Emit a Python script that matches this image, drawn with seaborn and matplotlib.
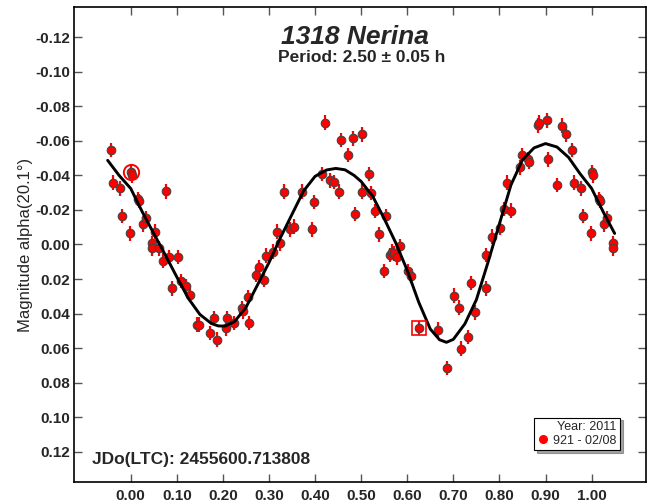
import numpy as np
import pandas as pd
import matplotlib
matplotlib.use("Agg")
import matplotlib.pyplot as plt
import seaborn as sns
from matplotlib.lines import Line2D

# ---- data (phase in [0,1), reduced magnitude) ----
phase = [0.000, 0.002, 0.0166, 0.018, 0.026, 0.033, 0.0455, 0.047, 0.0527, 0.062,
         0.0707, 0.0766, 0.083, 0.090, 0.102, 0.109, 0.119, 0.1286, 0.143, 0.148,
         0.171, 0.181, 0.1865, 0.207, 0.208, 0.225, 0.241, 0.243, 0.255, 0.257,
         0.271, 0.279, 0.290, 0.2935, 0.308, 0.3167, 0.3245, 0.3325, 0.3455, 0.354,
         0.371, 0.394, 0.3976, 0.414, 0.422, 0.432, 0.441, 0.452, 0.4555, 0.471,
         0.483, 0.486, 0.5017, 0.5017, 0.516, 0.521, 0.531, 0.539, 0.549, 0.554,
         0.562, 0.568, 0.572, 0.578, 0.585, 0.601, 0.609, 0.625, 0.667, 0.6855,
         0.702, 0.712, 0.7165, 0.732, 0.738, 0.747, 0.770, 0.7707, 0.784, 0.801,
         0.8105, 0.8156, 0.825, 0.8445, 0.8495, 0.8625, 0.8647, 0.884, 0.886, 0.9025,
         0.9045, 0.924, 0.935, 0.9436, 0.9566, 0.962, 0.976, 0.982, 0.9985]
mag = [-0.0420, -0.0400, -0.0265, -0.0252, -0.0116, -0.0155, -0.0006, 0.0023, -0.0074, 0.0023,
       0.0093, -0.0308, 0.0071, 0.0254, 0.0071, 0.0213, 0.0242, 0.0294, 0.0464, 0.0464,
       0.0513, 0.0426, 0.0552, 0.0486, 0.0426, 0.0455, 0.0368, 0.0387, 0.0304, 0.0455,
       0.0174, 0.0132, 0.0203, 0.0064, 0.0041, -0.0074, -0.0006, -0.0306, -0.0087, -0.0103,
       -0.0306, -0.0087, -0.0246, -0.0408, -0.0706, -0.0371, -0.0362, -0.0306, -0.0606, -0.0518,
       -0.0615, -0.0176, -0.0639, -0.0306, -0.0408, -0.0298, -0.0195, -0.0058, 0.0153, -0.0164,
       0.0060, 0.0041, 0.0052, 0.0074, 0.0010, 0.0153, 0.0184, 0.0484, 0.0493, 0.0716,
       0.0296, 0.0366, 0.0604, 0.0536, 0.0223, 0.0393, 0.0060, 0.0254, -0.0045, -0.0095,
       -0.0207, -0.0358, -0.0197, -0.0447, -0.0518, -0.0493, -0.0480, -0.0690, -0.0706, -0.0720,
       -0.0493, -0.0344, -0.0689, -0.0639, -0.0548, -0.0358, -0.0325, -0.0164, -0.0064]
mag_err = 0.0042

# fitted curve
fit_phase = [-0.050, -0.025, 0.000, 0.025, 0.050, 0.075, 0.100, 0.125, 0.150, 0.175,
             0.190, 0.205, 0.225, 0.250, 0.275, 0.300, 0.325, 0.350, 0.375, 0.400,
             0.425, 0.445, 0.465, 0.485, 0.500, 0.525, 0.550, 0.575, 0.600, 0.625,
             0.650, 0.670, 0.685, 0.700, 0.725, 0.750, 0.775, 0.800, 0.825, 0.850,
             0.875, 0.900, 0.925, 0.950, 0.975, 1.000, 1.025, 1.050]
fit_mag = [-0.0488, -0.0400, -0.0325, -0.0190, -0.0064, 0.0060, 0.0188, 0.0312, 0.0405, 0.0458,
           0.0472, 0.0473, 0.0448, 0.0365, 0.0235, 0.0105, -0.0040, -0.0175, -0.0310, -0.0395,
           -0.0432, -0.0441, -0.0433, -0.0400, -0.0365, -0.0280, -0.0150, -0.0010, 0.0150, 0.0335,
           0.0490, 0.0552, 0.0567, 0.0550, 0.0460, 0.0320, 0.0105, -0.0120, -0.0345, -0.0490,
           -0.0560, -0.0585, -0.0565, -0.0505, -0.0410, -0.0325, -0.0190, -0.0064]

circled = (0.000, -0.0420)
boxed = (0.625, 0.0484)

xticks = [0.0, 0.1, 0.2, 0.3, 0.4, 0.5, 0.6, 0.7, 0.8, 0.9, 1.0]
yticks = [-0.12, -0.10, -0.08, -0.06, -0.04, -0.02, 0.00, 0.02, 0.04, 0.06, 0.08, 0.10, 0.12]

# build plotted table with phase wrap (-0.05 .. 1.05)
p = np.array(phase); m = np.array(mag)
px = np.concatenate([p, p[p >= 0.95] - 1.0, p[p < 0.05] + 1.0])
py = np.concatenate([m, m[p >= 0.95], m[p < 0.05]])
df = pd.DataFrame({"phase": px, "mag": py})
fit = pd.DataFrame({"phase": fit_phase, "mag": fit_mag})

sns.set_theme(style="white")
plt.rcParams["font.family"] = ["Liberation Sans", "DejaVu Sans"]

fig = plt.figure(figsize=(6.49, 5.04), dpi=100)
ax = fig.add_axes([74/649, 1-481.7/504, 572/649, 474.4/504])

ax.errorbar(df["phase"], df["mag"], yerr=mag_err, fmt="none", ecolor="#ff0000",
            elinewidth=1.6, capsize=0, zorder=2)
sns.scatterplot(data=df, x="phase", y="mag", ax=ax, color="#ff0000", s=38,
                edgecolor="#444444", linewidth=0.8, zorder=3, legend=False)
sns.lineplot(data=fit, x="phase", y="mag", ax=ax, color="black", linewidth=2.1,
             zorder=4, sort=False)

ax.plot([circled[0]], [circled[1]], marker="o", ms=11, mfc="none", mec="#ff0000",
        mew=1.4, zorder=5)
ax.plot([boxed[0]], [boxed[1]], marker="s", ms=10, mfc="none", mec="#ff0000",
        mew=1.2, zorder=5)

ax.set_xlim(-0.123, 1.118)
ax.set_ylim(0.1375, -0.1375)
ax.set_xticks(xticks)
ax.set_xticklabels([f"{v:.2f}" for v in xticks], fontweight="bold", fontsize=11)
ax.set_yticks(yticks)
ax.set_yticklabels([f"{v:.2f}" for v in yticks], fontweight="bold", fontsize=11)
ax.tick_params(direction="in", length=6, width=1, color="#555555",
               top=True, right=True, bottom=True, left=True)
ax.tick_params(axis="y", pad=3)
ax.tick_params(axis="x", pad=5)
ax.set_xlabel("")
ax.set_ylabel("Magnitude alpha(20.1°)", fontsize=12)
ax.yaxis.set_label_coords(-0.072, 0.5)
for s in ax.spines.values():
    s.set_visible(True)
    s.set_color("black")
    s.set_linewidth(1.2)

ax.text(0.492, 0.9375, "1318 Nerina", transform=ax.transAxes, ha="center", va="center",
        fontsize=19, fontweight="bold", fontstyle="italic")
ax.text(0.5035, 0.895, "Period: 2.50 ± 0.05 h", transform=ax.transAxes, ha="center",
        va="center", fontsize=12.5, fontweight="bold")
ax.text(0.0315, 0.047, "JDo(LTC): 2455600.713808", transform=ax.transAxes, ha="left",
        va="center", fontsize=12.5, fontweight="bold")

h = Line2D([], [], marker="o", color="#ff0000", ls="none", ms=5.5)
leg = ax.legend([h], ["921 - 02/08"], title="Year: 2011", loc="lower right",
                bbox_to_anchor=(0.955, 0.066), borderaxespad=0, fontsize=9,
                title_fontsize=9, frameon=True, fancybox=False, shadow=True,
                handlelength=0.8, handletextpad=0.4, borderpad=0.3,
                alignment="right", labelspacing=0.1)
leg.get_frame().set_edgecolor("black")
leg.get_frame().set_linewidth(0.8)

fig.savefig("out.png", dpi=100)
